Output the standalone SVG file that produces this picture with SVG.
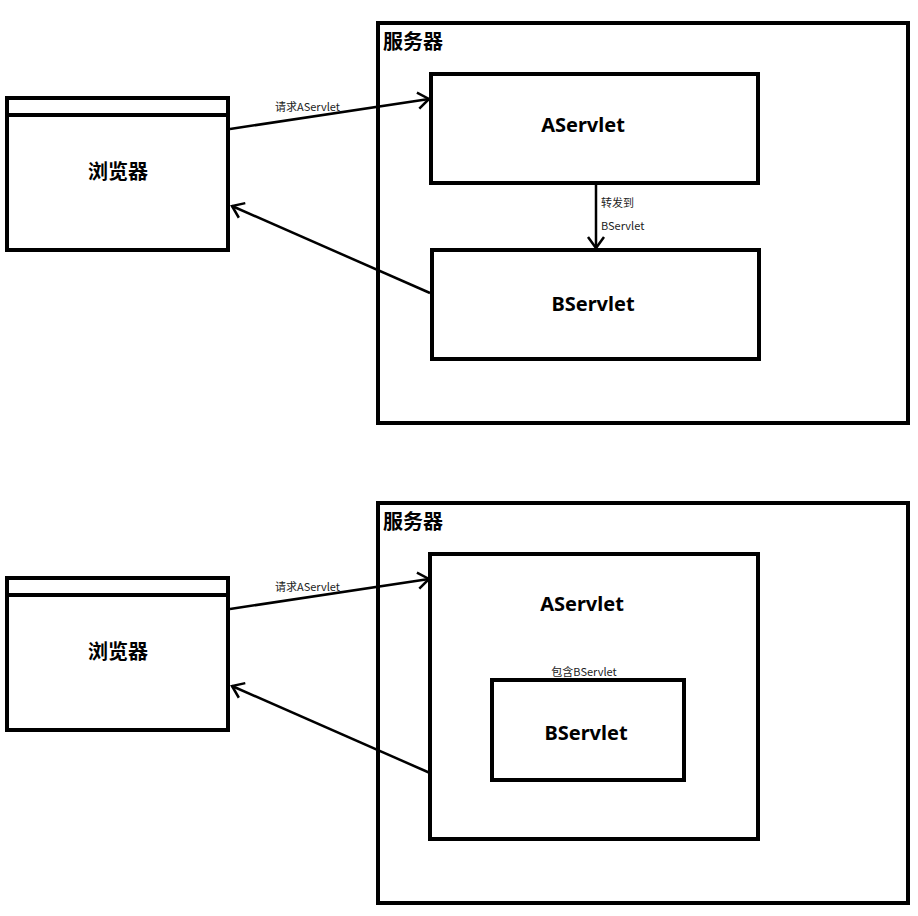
<svg xmlns="http://www.w3.org/2000/svg" width="918" height="916" viewBox="0 0 918 916">
<style>
.box{fill:none;stroke:#000;stroke-width:4}
.conn{fill:none;stroke:#000;stroke-width:2.5}
.title{font-family:"Noto Sans CJK SC","Noto Sans",sans-serif;font-weight:bold;font-size:20px;fill:#000}
.big{font-family:"Noto Sans","Noto Sans CJK SC",sans-serif;font-weight:bold;font-size:20px;fill:#000;text-anchor:middle}
.lbl{font-family:"Noto Sans CJK SC","Noto Sans",sans-serif;font-size:11px;fill:#222}
</style>
<defs>
<marker id="arr" markerUnits="userSpaceOnUse" markerWidth="16" markerHeight="20" refX="13" refY="10" orient="auto" viewBox="0 0 16 20">
<path d="M2,2 L13,10 L2,18" fill="none" stroke="#000" stroke-width="2.5"/>
</marker>
</defs>
<rect width="918" height="916" fill="#fff"/>

<g id="top-browser">
<rect class="box" x="7" y="98" width="221" height="152"/>
<line class="box" x1="7" y1="115" x2="228" y2="115"/>
<text class="title" x="118" y="179" text-anchor="middle">浏览器</text>
</g>
<g id="top-server">
<rect class="box" x="378" y="23" width="530" height="400"/>
<text class="title" x="383" y="49">服务器</text>
</g>
<g id="top-aservlet">
<rect class="box" x="431" y="74" width="327" height="109"/>
<text class="big" x="583" y="132">AServlet</text>
</g>
<g id="top-bservlet">
<rect class="box" x="432" y="250" width="327" height="109"/>
<text class="big" x="593" y="311">BServlet</text>
</g>

<g id="bottom-browser">
<rect class="box" x="7" y="578" width="221" height="152"/>
<line class="box" x1="7" y1="595" x2="228" y2="595"/>
<text class="title" x="118" y="659" text-anchor="middle">浏览器</text>
</g>
<g id="bottom-server">
<rect class="box" x="378" y="503" width="530" height="400"/>
<text class="title" x="383" y="529">服务器</text>
</g>
<g id="bottom-aservlet">
<rect class="box" x="430" y="554" width="328" height="285"/>
<text class="big" x="582" y="611">AServlet</text>
</g>
<g id="bottom-bservlet">
<rect class="box" x="492" y="680" width="192" height="100"/>
<text class="big" x="586" y="740">BServlet</text>
</g>

<g id="connectors">
<line class="conn" x1="230" y1="129" x2="429" y2="99" marker-end="url(#arr)"/>
<text class="lbl" x="275" y="111">请求AServlet</text>
<line class="conn" x1="430" y1="293" x2="232" y2="206" marker-end="url(#arr)"/>
<line class="conn" x1="596" y1="185" x2="596" y2="248" marker-end="url(#arr)"/>
<text class="lbl" x="601" y="207">转发到</text>
<text class="lbl" x="601" y="230">BServlet</text>

<line class="conn" x1="230" y1="609" x2="429" y2="579" marker-end="url(#arr)"/>
<text class="lbl" x="275" y="591">请求AServlet</text>
<line class="conn" x1="430" y1="773" x2="232" y2="686" marker-end="url(#arr)"/>
<text class="lbl" x="584" y="676" text-anchor="middle">包含BServlet</text>
</g>
</svg>
